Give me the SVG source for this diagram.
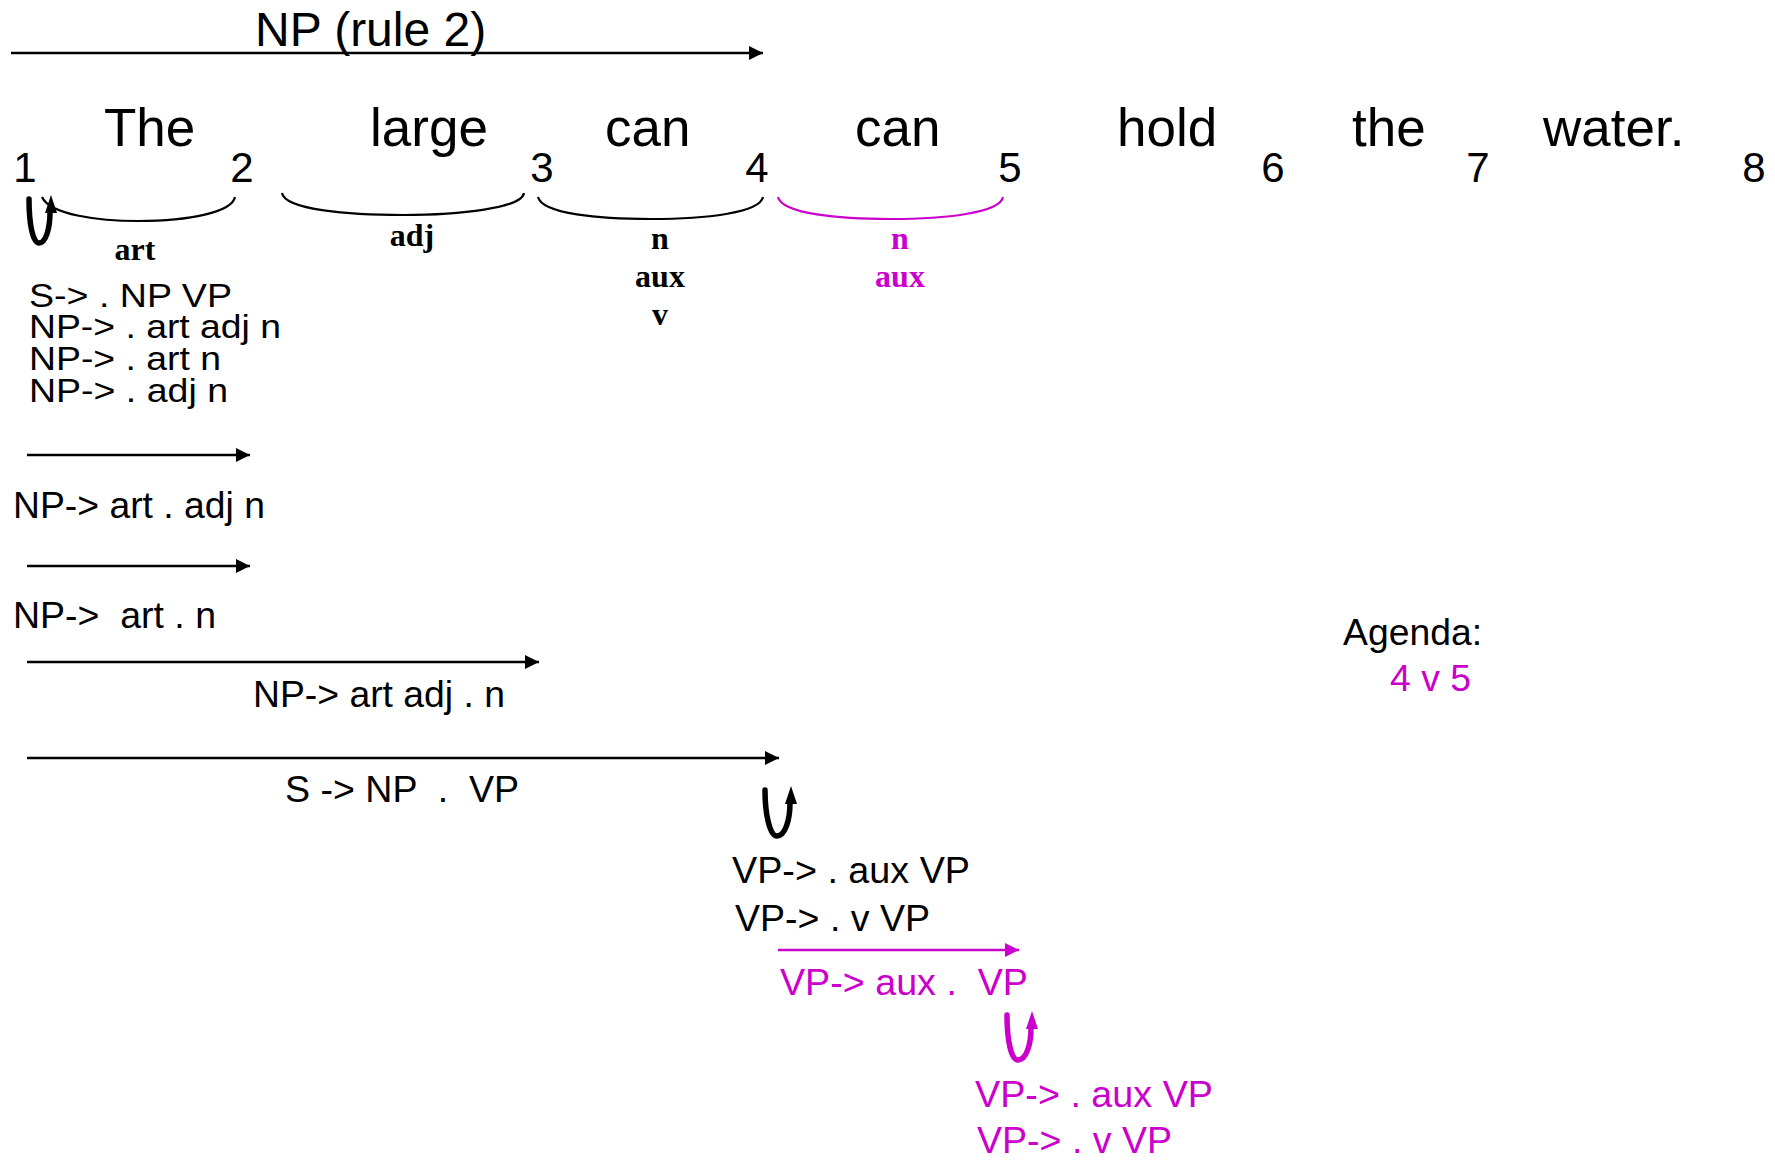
<svg xmlns="http://www.w3.org/2000/svg" width="1775" height="1160" viewBox="0 0 1775 1160">
<style>
.s{font-family:"Liberation Sans",Arial,sans-serif;fill:#000}
.w{font-size:53px}
.num{font-size:42px;text-anchor:middle}
.r{font-size:36px}
.k{font-size:33px}
.t{font-family:"Liberation Serif","Times New Roman",serif;font-weight:bold;font-size:32px;text-anchor:middle;fill:#000}
.m{fill:#CC00CC}
.arc{fill:none;stroke:#000;stroke-width:2.2}
.arcm{fill:none;stroke:#CC00CC;stroke-width:2.2}
.ln{stroke:#000;stroke-width:2.5;fill:none}
.lnm{stroke:#CC00CC;stroke-width:2.5;fill:none}
.loop{fill:none;stroke:#000;stroke-width:5.5;stroke-linecap:round}
.loopm{fill:none;stroke:#CC00CC;stroke-width:5.5;stroke-linecap:round}
</style>
<defs>
<marker id="ah" markerUnits="userSpaceOnUse" markerWidth="16" markerHeight="16" refX="14" refY="7" orient="auto">
<path d="M0,0 L14,7 L0,14 Z" fill="#000"/>
</marker>
<marker id="ahm" markerUnits="userSpaceOnUse" markerWidth="16" markerHeight="16" refX="14" refY="7" orient="auto">
<path d="M0,0 L14,7 L0,14 Z" fill="#CC00CC"/>
</marker>
</defs>
<rect width="1775" height="1160" fill="#fff"/>

<g id="title">
<text class="s" x="255" y="46" style="font-size:48px">NP (rule 2)</text>
</g>

<g id="words">
<text class="s w" x="104" y="146">The</text>
<text class="s w" x="370" y="146">large</text>
<text class="s w" x="605" y="146">can</text>
<text class="s w" x="855" y="146">can</text>
<text class="s w" x="1117" y="146">hold</text>
<text class="s w" x="1352" y="146">the</text>
<text class="s w" x="1543" y="146">water.</text>
</g>

<g id="positions">
<text class="s num" x="25" y="182">1</text>
<text class="s num" x="242" y="182">2</text>
<text class="s num" x="542" y="182">3</text>
<text class="s num" x="757" y="182">4</text>
<text class="s num" x="1010" y="182">5</text>
<text class="s num" x="1273" y="182">6</text>
<text class="s num" x="1478" y="182">7</text>
<text class="s num" x="1754" y="182">8</text>
</g>

<g id="lexical">
<path class="arc" d="M42,197 C50,215 100,221 138,221 C190,221 232,212 235,197"/>
<path class="arc" d="M282,193 C285,210 350,215 403,215 C460,215 522,208 524,193"/>
<path class="arc" d="M538,197 C542,214 600,219 651,219 C705,219 760,213 763,197"/>
<path class="arcm" d="M778,197 C782,214 840,219 891,219 C945,219 1000,213 1003,197"/>
<text class="t" x="135" y="260">art</text>
<text class="t" x="412" y="246">adj</text>
<text class="t" x="660" y="249">n</text>
<text class="t" x="660" y="287">aux</text>
<text class="t" x="660" y="325">v</text>
<text class="t m" x="900" y="249">n</text>
<text class="t m" x="900" y="287">aux</text>
</g>

<g id="loop1">
<path class="loop" d="M29,199 C29,225 33,243 39,243 C46,243 50,228 50,212"/>
<polygon points="51,195 45,213 57,213" fill="#000"/>
</g>

<g id="state1">
<text class="s k" x="29" y="307" textLength="203" lengthAdjust="spacingAndGlyphs">S-&gt; . NP VP</text>
<text class="s k" x="29" y="338" textLength="252" lengthAdjust="spacingAndGlyphs">NP-&gt; . art adj n</text>
<text class="s k" x="29" y="370" textLength="192" lengthAdjust="spacingAndGlyphs">NP-&gt; . art n</text>
<text class="s k" x="29" y="402" textLength="199" lengthAdjust="spacingAndGlyphs">NP-&gt; . adj n</text>
</g>

<g id="connectors">
<line class="ln" x1="11" y1="53" x2="763" y2="53" marker-end="url(#ah)"/>
<line class="ln" x1="27" y1="455" x2="250" y2="455" marker-end="url(#ah)"/>
<line class="ln" x1="27" y1="566" x2="250" y2="566" marker-end="url(#ah)"/>
<line class="ln" x1="27" y1="662" x2="539" y2="662" marker-end="url(#ah)"/>
<line class="ln" x1="27" y1="758" x2="779" y2="758" marker-end="url(#ah)"/>
<line class="lnm" x1="778" y1="950" x2="1019" y2="950" marker-end="url(#ahm)"/>
</g>

<g id="edge1">
<text class="s r" x="13" y="518" textLength="252" lengthAdjust="spacingAndGlyphs">NP-&gt; art . adj n</text>
</g>
<g id="edge2">
<text class="s r" x="13" y="628" xml:space="preserve" textLength="203" lengthAdjust="spacingAndGlyphs">NP-&gt;  art . n</text>
</g>
<g id="edge3">
<text class="s r" x="253" y="707" textLength="252" lengthAdjust="spacingAndGlyphs">NP-&gt; art adj . n</text>
</g>
<g id="edge4">
<text class="s r" x="285" y="802" xml:space="preserve" textLength="234" lengthAdjust="spacingAndGlyphs">S -&gt; NP  .  VP</text>
</g>

<g id="loop2">
<path class="loop" d="M765,790 C765,815 770,836 777,836 C785,836 790,820 790,803"/>
<polygon points="791,786 785,804 797,804" fill="#000"/>
</g>

<g id="state4">
<text class="s r" x="732" y="883" textLength="238" lengthAdjust="spacingAndGlyphs">VP-&gt; . aux VP</text>
<text class="s r" x="735" y="931" textLength="195" lengthAdjust="spacingAndGlyphs">VP-&gt; . v VP</text>
</g>

<g id="edge5">
<text class="s r m" x="780" y="995" xml:space="preserve" textLength="248" lengthAdjust="spacingAndGlyphs">VP-&gt; aux .  VP</text>
</g>

<g id="loop3">
<path class="loopm" d="M1007,1015 C1007,1040 1011,1060 1018,1060 C1026,1060 1031,1045 1031,1028"/>
<polygon points="1032,1011 1026,1029 1038,1029" fill="#CC00CC"/>
</g>

<g id="state5">
<text class="s r m" x="975" y="1107" textLength="238" lengthAdjust="spacingAndGlyphs">VP-&gt; . aux VP</text>
<text class="s r m" x="977" y="1153" textLength="195" lengthAdjust="spacingAndGlyphs">VP-&gt; . v VP</text>
</g>

<g id="agenda">
<text class="s r" x="1343" y="645" textLength="139" lengthAdjust="spacingAndGlyphs">Agenda:</text>
<text class="s r m" x="1390" y="691" textLength="81" lengthAdjust="spacingAndGlyphs">4 v 5</text>
</g>
</svg>
